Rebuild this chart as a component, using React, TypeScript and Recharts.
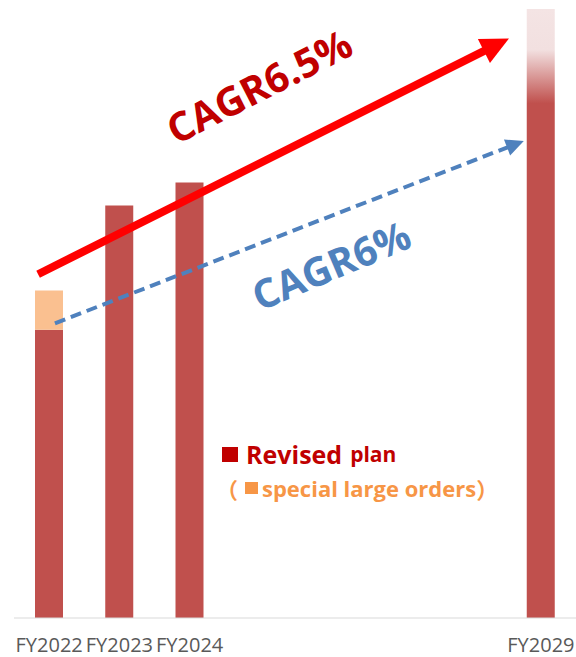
import React from "react";
import { BarChart, Bar, XAxis, YAxis, Cell, ReferenceLine } from "recharts";

// fiscal years on the axis, only some get a label
const years = ["FY2022", "FY2023", "FY2024", "FY2025", "FY2026", "FY2027", "FY2028", "FY2029"];
const shownYears = ["FY2022", "FY2023", "FY2024", "FY2029"];
// revised plan (red) and special large orders (orange), index units
const revisedPlan = [88, 126, 133, null, null, null, null, 186];
const specialOrders = [12, 0, 0, null, null, null, null, 0];

// CAGR arrows, x on the 0..7 annotation axis, y = value
const cagrHigh = [{ x: 0.3, y: 105 }, { x: 6.165, y: 177 }];
const cagrLow = [{ x: 0.51, y: 90 }, { x: 6.35, y: 145.7 }];

const data = years.map((name, i) => ({ name, revised: revisedPlan[i], special: specialOrders[i] }));

const FONT = "'Open Sans', 'Noto Sans CJK JP', sans-serif";
const CJK = "'Noto Sans CJK JP', sans-serif";

function makeArrow(color: string, width: number, dash: string | undefined, headLen: number, headW: number) {
  return (props: any) => {
    const { x1, y1, x2, y2 } = props;
    const dx = x2 - x1;
    const dy = y2 - y1;
    const len = Math.sqrt(dx * dx + dy * dy);
    const ux = dx / len;
    const uy = dy / len;
    const bx = x2 - ux * headLen;
    const by = y2 - uy * headLen;
    const px = -uy * (headW / 2);
    const py = ux * (headW / 2);
    return (
      <g>
        <line x1={x1} y1={y1} x2={bx + ux * 2} y2={by + uy * 2} stroke={color} strokeWidth={width} strokeDasharray={dash} />
        <polygon points={`${x2},${y2} ${bx + px},${by + py} ${bx - px},${by - py}`} fill={color} />
      </g>
    );
  };
}

export default function App() {
  return (
    <div style={{ position: "absolute", left: 0, top: 0, width: 576, height: 657, background: "#fff", fontFamily: FONT }}>
      <BarChart width={576} height={657} data={data} margin={{ top: 9, right: 0, bottom: 0, left: 14 }}>
        <defs>
          <linearGradient id="fade2029" x1="0" y1="0" x2="0" y2="1">
            <stop offset="0" stopColor="#f4e4e4" />
            <stop offset="0.067" stopColor="#f2e0e0" />
            <stop offset="0.155" stopColor="#c0504d" />
            <stop offset="1" stopColor="#c0504d" />
          </linearGradient>
        </defs>
        <XAxis
          xAxisId="cat"
          dataKey="name"
          height={39}
          tickSize={0}
          tickMargin={20}
          axisLine={{ stroke: "#d9d9d9" }}
          tickLine={false}
          interval={0}
          tickFormatter={(v: string) => (shownYears.includes(v) ? v : "")}
          tick={{ fill: "#595959", fontSize: 20, fontFamily: FONT }}
        />
        <XAxis xAxisId="num" type="number" domain={[0, 7]} allowDataOverflow hide />
        <YAxis hide domain={[0, 186]} />
        <Bar xAxisId="cat" dataKey="revised" stackId="a" barSize={28} fill="#c0504d" isAnimationActive={false}>
          {data.map((d) => (
            <Cell key={d.name} fill={d.name === "FY2029" ? "url(#fade2029)" : "#c0504d"} />
          ))}
        </Bar>
        <Bar xAxisId="cat" dataKey="special" stackId="a" barSize={28} fill="#fac090" isAnimationActive={false} />
        <ReferenceLine
          xAxisId="num"
          segment={cagrLow}
          ifOverflow="visible"
          shape={makeArrow("#4f81bd", 4, "11 6", 18, 17)}
        />
        <ReferenceLine
          xAxisId="num"
          segment={cagrHigh}
          ifOverflow="visible"
          shape={makeArrow("#ff0000", 8, undefined, 28, 27)}
        />
      </BarChart>

      <div style={{ position: "absolute", left: 259, top: 86, transform: "translate(-50%, -50%) rotate(-27deg)", color: "#c00000", fontSize: 40, fontWeight: 700, lineHeight: 1, whiteSpace: "nowrap" }}>
        CAGR6.5%
      </div>
      <div style={{ position: "absolute", left: 331, top: 265, transform: "translate(-50%, -50%) rotate(-23deg)", color: "#4f81bd", fontSize: 40, fontWeight: 700, lineHeight: 1, whiteSpace: "nowrap" }}>
        CAGR6%
      </div>

      <div style={{ position: "absolute", left: 222, top: 442, display: "flex", alignItems: "center", whiteSpace: "nowrap", color: "#c00000", fontWeight: 700, lineHeight: 1 }}>
        <span style={{ display: "inline-block", width: 16, height: 15, background: "#c00000", marginRight: 8 }} />
        <span style={{ fontSize: 25 }}>Revised</span>
        <span style={{ fontSize: 21, marginLeft: 8 }}>plan</span>
      </div>
      <div style={{ position: "absolute", left: 216, top: 477, display: "flex", alignItems: "center", whiteSpace: "nowrap", color: "#f79646", fontWeight: 700, lineHeight: 1, fontSize: 22 }}>
        <span style={{ fontFamily: CJK }}>（</span>
        <span style={{ display: "inline-block", width: 13, height: 12, background: "#f79646", marginRight: 4, marginLeft: 7 }} />
        <span>special large orders</span>
        <span style={{ fontFamily: CJK }}>）</span>
      </div>
    </div>
  );
}
